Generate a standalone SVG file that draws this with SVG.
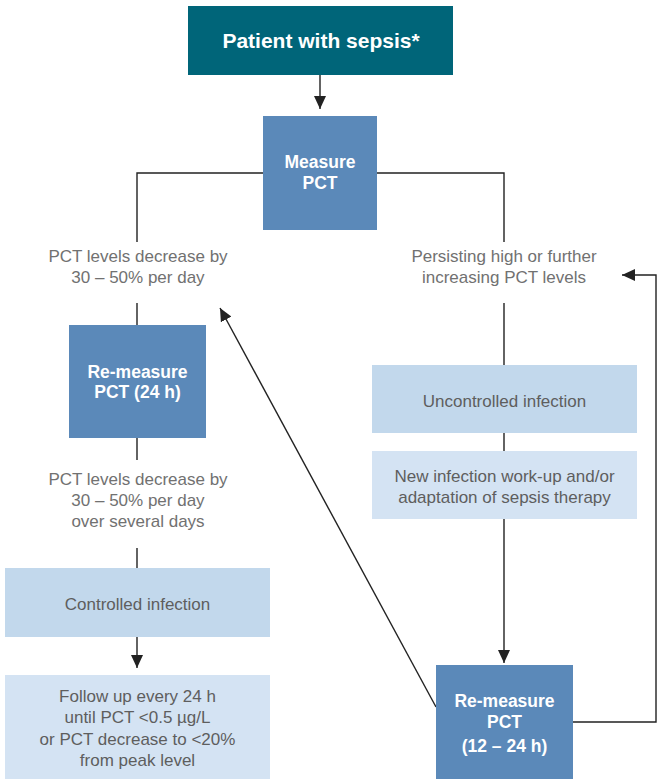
<svg xmlns="http://www.w3.org/2000/svg" width="659" height="779" viewBox="0 0 659 779">
<style>
.lbl{font-family:"Liberation Sans",Arial,sans-serif;font-size:17px;fill:#717171;text-anchor:middle}
.btxt{font-family:"Liberation Sans",Arial,sans-serif;font-size:17px;fill:#5e5e5e;text-anchor:middle}
.wtxt{font-family:"Liberation Sans",Arial,sans-serif;font-size:17.5px;font-weight:bold;fill:#ffffff;text-anchor:middle}
.dark{fill:#006579}
.mid{fill:#5b89b9}
.lt1{fill:#c2d8ec}
.lt2{fill:#d4e3f3}
.conn{fill:none;stroke:#222;stroke-width:1.4}
</style>
<defs>
<marker id="ah" markerUnits="userSpaceOnUse" markerWidth="14" markerHeight="12" refX="13" refY="6" orient="auto">
<path d="M0,0 L13,6 L0,12 z" fill="#222"/>
</marker>
</defs>
<g id="connectors">
<path class="conn" d="M320,75 V109" marker-end="url(#ah)"/>
<path class="conn" d="M263,173 H137 V242"/>
<path class="conn" d="M377,173 H504 V242"/>
<path class="conn" d="M137,303 V325"/>
<path class="conn" d="M137,438 V460"/>
<path class="conn" d="M137,548 V568"/>
<path class="conn" d="M137,637 V668" marker-end="url(#ah)"/>
<path class="conn" d="M504,303 V365"/>
<path class="conn" d="M504,433 V451"/>
<path class="conn" d="M504,519 V663" marker-end="url(#ah)"/>
<path class="conn" d="M436,707 L220,308" marker-end="url(#ah)"/>
<path class="conn" d="M573,722 H656 V275 H622" marker-end="url(#ah)"/>
</g>
<g id="patient">
<rect class="dark" x="188" y="6" width="265" height="69"/>
<text class="wtxt" x="321" y="48" style="font-size:21px">Patient with sepsis*</text>
</g>
<g id="measure">
<rect class="mid" x="263" y="116" width="114" height="114"/>
<text class="wtxt" x="320" y="168">Measure</text>
<text class="wtxt" x="320" y="189">PCT</text>
</g>
<g id="label-decrease">
<text class="lbl" x="138" y="262">PCT levels decrease by</text>
<text class="lbl" x="138" y="283">30 – 50% per day</text>
</g>
<g id="remeasure24">
<rect class="mid" x="69" y="325" width="137" height="113"/>
<text class="wtxt" x="137.5" y="378">Re-measure</text>
<text class="wtxt" x="137.5" y="398">PCT (24 h)</text>
</g>
<g id="label-decrease-several">
<text class="lbl" x="138" y="485">PCT levels decrease by</text>
<text class="lbl" x="138" y="506">30 – 50% per day</text>
<text class="lbl" x="138" y="527">over several days</text>
</g>
<g id="controlled">
<rect class="lt1" x="5" y="568" width="265" height="69"/>
<text class="btxt" x="137.5" y="610">Controlled infection</text>
</g>
<g id="followup">
<rect class="lt2" x="5" y="675" width="265" height="104"/>
<text class="btxt" x="137.5" y="702">Follow up every 24 h</text>
<text class="btxt" x="137.5" y="723">until PCT &lt;0.5 µg/L</text>
<text class="btxt" x="137.5" y="745">or PCT decrease to &lt;20%</text>
<text class="btxt" x="137.5" y="766">from peak level</text>
</g>
<g id="label-persisting">
<text class="lbl" x="504" y="262">Persisting high or further</text>
<text class="lbl" x="504" y="283">increasing PCT levels</text>
</g>
<g id="uncontrolled">
<rect class="lt1" x="372" y="365" width="265" height="68"/>
<text class="btxt" x="504.5" y="407">Uncontrolled infection</text>
</g>
<g id="newinfection">
<rect class="lt2" x="372" y="451" width="265" height="68"/>
<text class="btxt" x="504.5" y="482">New infection work-up and/or</text>
<text class="btxt" x="504.5" y="503">adaptation of sepsis therapy</text>
</g>
<g id="remeasure12">
<rect class="mid" x="436" y="665" width="137" height="114"/>
<text class="wtxt" x="504.5" y="707">Re-measure</text>
<text class="wtxt" x="504.5" y="728">PCT</text>
<text class="wtxt" x="504.5" y="752">(12 – 24 h)</text>
</g>
</svg>
